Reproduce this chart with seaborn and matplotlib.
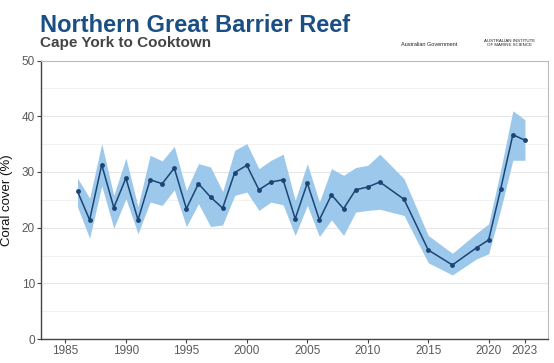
import matplotlib
matplotlib.use("Agg")
import matplotlib.pyplot as plt
import seaborn as sns
import pandas as pd
from matplotlib.ticker import MultipleLocator

# coral cover, Northern GBR
years = [1986, 1987, 1988, 1989, 1990, 1991, 1992, 1993, 1994, 1995,
         1996, 1997, 1998, 1999, 2000, 2001, 2002, 2003, 2004, 2005,
         2006, 2007, 2008, 2009, 2010, 2011, 2013, 2015, 2017, 2019,
         2020, 2021, 2022, 2023]
cover = [26.5, 21.4, 31.3, 23.6, 28.9, 21.4, 28.6, 27.9, 30.7, 23.4,
         27.9, 25.5, 23.5, 29.9, 31.2, 26.8, 28.2, 28.6, 21.6, 28.0,
         21.4, 25.9, 23.4, 26.8, 27.3, 28.2, 25.1, 16.0, 13.3, 16.4,
         17.8, 27.0, 36.7, 35.7]
lower = [23.7, 18.1, 27.5, 19.9, 25.2, 18.9, 24.6, 24.0, 26.8, 20.2,
         24.3, 20.2, 20.5, 25.8, 26.4, 23.1, 24.6, 24.1, 18.6, 24.0,
         18.4, 21.4, 18.6, 22.8, 23.1, 23.3, 22.2, 13.7, 11.5, 14.4,
         15.3, 23.3, 32.1, 32.1]
upper = [28.9, 25.3, 35.1, 25.8, 32.5, 23.8, 33.0, 32.0, 34.6, 26.7,
         31.5, 30.9, 26.5, 33.9, 35.1, 30.6, 32.1, 33.2, 24.9, 31.5,
         24.6, 30.6, 29.4, 30.8, 31.2, 33.2, 28.8, 18.6, 15.4, 19.0,
         20.7, 30.4, 41.0, 39.4]
xticks = [1985, 1990, 1995, 2000, 2005, 2010, 2015, 2020, 2023]

df = pd.DataFrame({"year": years, "cover": cover, "lower": lower, "upper": upper})

sns.set_theme(style="whitegrid")
plt.rcParams['font.family'] = ['Liberation Sans', 'DejaVu Sans']

fig = plt.figure(figsize=(5.54, 3.63), dpi=100)
ax = fig.add_axes([0.0745, 0.066, 0.9145, 0.767])

# confidence band + mean line
ax.fill_between(df["year"], df["lower"], df["upper"], color="#9cc8ec", lw=0, zorder=2)
sns.lineplot(data=df, x="year", y="cover", ax=ax, color="#1c4573", lw=1.1,
             marker="o", markersize=3.5, markeredgewidth=0, zorder=3)

ax.set_xlim(1983, 2024.9)
ax.set_ylim(0, 50)
ax.set_xticks(xticks)
ax.yaxis.set_major_locator(MultipleLocator(10))
ax.yaxis.set_minor_locator(MultipleLocator(5))
ax.grid(axis="x", visible=False)
ax.grid(axis="y", which="major", color="#e6e6e6", lw=0.8)
ax.grid(axis="y", which="minor", color="#f2f2f2", lw=0.7)

ax.tick_params(axis="both", which="major", labelsize=8.5, labelcolor="#5a5a5a",
               length=3, width=0.8, color="#444444", pad=1.5)
ax.tick_params(axis="y", which="minor", length=0)
ax.xaxis.set_tick_params(bottom=True)
ax.yaxis.set_tick_params(left=True)

for side in ["left", "bottom"]:
    ax.spines[side].set_color("#444444")
    ax.spines[side].set_linewidth(1.0)
for side in ["top", "right"]:
    ax.spines[side].set_color("#bbbbbb")
    ax.spines[side].set_linewidth(0.8)

ax.set_xlabel("")
ax.set_ylabel("Coral cover (%)", fontsize=9.5, color="#111111", labelpad=6)

fig.text(0.073, 0.912, "Northern Great Barrier Reef", fontsize=17, fontweight="bold",
         color="#1a4f85", ha="left", va="baseline")
fig.text(0.073, 0.87, "Cape York to Cooktown", fontsize=11, fontweight="bold",
         color="#444444", ha="left", va="baseline")
fig.text(0.775, 0.873, "Australian Government", fontsize=4, color="#222222", ha="center")
fig.text(0.92, 0.873, "AUSTRALIAN INSTITUTE\nOF MARINE SCIENCE", fontsize=3.2,
         color="#222222", ha="center", linespacing=1.1)

fig.savefig("out.png", dpi=100)
